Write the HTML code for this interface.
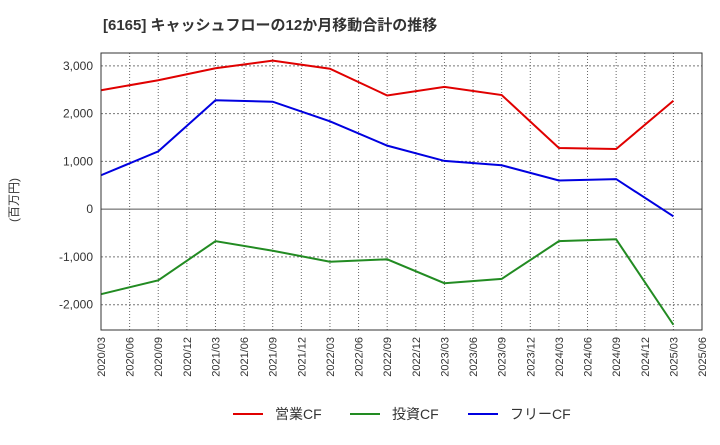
<!DOCTYPE html>
<html><head><meta charset="utf-8"><style>
body{margin:0;background:#fff;font-family:"Liberation Sans","Noto Sans CJK JP",sans-serif;}
</style></head><body>
<svg width="720" height="440" xmlns="http://www.w3.org/2000/svg" font-family="Liberation Sans, Noto Sans CJK JP, sans-serif">
<text x="103" y="30" font-size="15" font-weight="bold" fill="#333">[6165]  キャッシュフローの12か月移動合計の推移</text>
<text transform="translate(18,200) rotate(-90)" font-size="12" fill="#333" text-anchor="middle">(百万円)</text>
<g id="grid"></g><g id="axes"></g><g id="series"></g>
<rect x="101" y="53" width="601" height="277" fill="none" stroke="#333" stroke-width="1"/>
<g font-size="14" fill="#333">
<line x1="233" y1="414" x2="263" y2="414" stroke="#e00000" stroke-width="2"/>
<text x="275" y="419">営業CF</text>
<line x1="350" y1="414" x2="380" y2="414" stroke="#228B22" stroke-width="2"/>
<text x="392" y="419">投資CF</text>
<line x1="468" y1="414" x2="498" y2="414" stroke="#0000e0" stroke-width="2"/>
<text x="510" y="419">フリーCF</text>
</g>
</svg>
<script>
const xLabels=["2020/03","2020/06","2020/09","2020/12","2021/03","2021/06","2021/09","2021/12","2022/03","2022/06","2022/09","2022/12","2023/03","2023/06","2023/09","2023/12","2024/03","2024/06","2024/09","2024/12","2025/03","2025/06"];
const pointIdx=[0,2,4,6,8,10,12,14,16,18,20];
const operatingCF=[2490,2700,2950,3110,2940,2380,2560,2390,1280,1260,2270];
const investingCF=[-1780,-1490,-670,-870,-1100,-1050,-1550,-1460,-670,-630,-2420];
const freeCF=[710,1210,2280,2250,1840,1330,1010,920,600,630,-150];
const yTicks=[-2000,-1000,0,1000,2000,3000];
const yTickLabels=["-2,000","-1,000","0","1,000","2,000","3,000"];
const NS="http://www.w3.org/2000/svg";
const L=101,R=702,T=53,B=330,yMin=-2530,yMax=3270;
const xs=i=>L+(R-L)*i/(xLabels.length-1);
const ys=v=>B-(v-yMin)/(yMax-yMin)*(B-T);
function mk(t,a,p){const e=document.createElementNS(NS,t);for(const k in a)e.setAttribute(k,a[k]);p.appendChild(e);return e;}
const grid=document.getElementById('grid'),axes=document.getElementById('axes'),ser=document.getElementById('series');
xLabels.forEach((lab,i)=>{
 const x=xs(i);
 const g=mk('line',{x1:x,x2:x,y1:T,y2:B,stroke:'#666','stroke-width':1,'stroke-dasharray':'1,2'},grid);
 
 
 const t=mk('text',{transform:`translate(${x+4},337) rotate(-90)`,'font-size':11,fill:'#333','text-anchor':'end'},axes);
 t.textContent=lab;
 
 
});
yTicks.forEach((v,i)=>{
 const y=ys(v);
 const g=mk('line',{x1:L,x2:R,y1:y,y2:y,stroke:v===0?'#555':'#777','stroke-width':1,'stroke-dasharray':v===0?'none':'2,2'},grid);
 
 
 const t=mk('text',{x:93,y:y+4,'font-size':12,fill:'#333','text-anchor':'end'},axes);
 t.textContent=yTickLabels[i];
 
 
});
[[operatingCF,'#e00000','operating-cf-line'],[investingCF,'#228B22','investing-cf-line'],[freeCF,'#0000e0','free-cf-line']].forEach(([d,c,n])=>{
 const pts=d.map((v,i)=>xs(pointIdx[i])+','+ys(v)).join(' ');
 const p=mk('polyline',{points:pts,fill:'none',stroke:c,'stroke-width':2},ser);
 
 
});
</script>
</body></html>
